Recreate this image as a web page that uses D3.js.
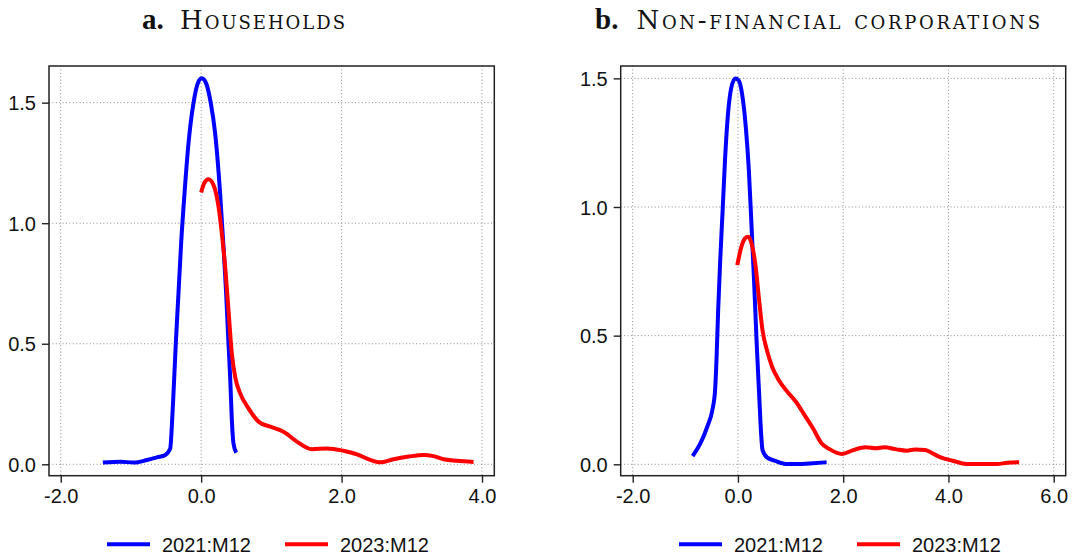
<!DOCTYPE html>
<html>
<head>
<meta charset="utf-8">
<script src="https://cdn.jsdelivr.net/npm/d3@7"></script>
<style>
  html, body { margin: 0; padding: 0; background: #fff; }
  svg { display: block; }
  .tick-label { font-family: "Liberation Sans", Arial, sans-serif; font-size: 20px; fill: #111; }
  .legend-label { font-family: "Liberation Sans", Arial, sans-serif; font-size: 20px; fill: #111; }
  .title-letter { font-family: "Liberation Serif", "Times New Roman", serif; font-size: 29px; font-weight: bold; fill: #111; }
  .title-name { font-family: "DejaVu Serif", serif; font-size: 26px; fill: #111; font-variant: small-caps; }
</style>
</head>
<body>
<svg id="chart" width="1075" height="556"></svg>
<script>
// Series names and colours
const seriesNames = ["2021:M12", "2023:M12"];
const seriesColors = ["#0000ff", "#ff0000"];

// Panel a: households — density estimates [x, density]
const householdsX2021 = [-1.40, -1.15, -0.96, -0.77, -0.63, -0.51, -0.44, -0.418, -0.394, -0.361, -0.323, -0.285, -0.237, -0.18, -0.11, -0.038, 0.01, 0.071, 0.138, 0.199, 0.27, 0.318, 0.356, 0.389, 0.413, 0.437, 0.46, 0.499];
const householdsY2021 = [0.007, 0.011, 0.007, 0.018, 0.029, 0.039, 0.066, 0.156, 0.294, 0.502, 0.709, 0.917, 1.124, 1.332, 1.497, 1.587, 1.601, 1.580, 1.497, 1.373, 1.124, 0.903, 0.709, 0.502, 0.363, 0.184, 0.087, 0.048];
const householdsX2023 = [0.0, 0.043, 0.104, 0.175, 0.247, 0.294, 0.342, 0.389, 0.437, 0.484, 0.556, 0.674, 0.817, 0.983, 1.173, 1.363, 1.577, 1.79, 2.027, 2.24, 2.407, 2.55, 2.74, 2.954, 3.167, 3.31, 3.452, 3.642, 3.88];
const householdsY2023 = [1.127, 1.166, 1.182, 1.159, 1.069, 0.958, 0.820, 0.640, 0.460, 0.363, 0.294, 0.232, 0.177, 0.156, 0.135, 0.094, 0.062, 0.066, 0.056, 0.039, 0.018, 0.008, 0.021, 0.032, 0.039, 0.034, 0.021, 0.015, 0.010];

// Panel b: non-financial corporations — density estimates [x, density]
const corporationsX2021 = [-0.861, -0.712, -0.583, -0.486, -0.434, -0.408, -0.376, -0.337, -0.291, -0.246, -0.194, -0.13, -0.052, 0.013, 0.078, 0.149, 0.207, 0.259, 0.311, 0.356, 0.402, 0.44, 0.466, 0.55, 0.712, 0.939, 1.23, 1.425, 1.684];
const corporationsY2021 = [0.032, 0.082, 0.146, 0.211, 0.289, 0.405, 0.599, 0.793, 0.987, 1.182, 1.350, 1.460, 1.499, 1.492, 1.440, 1.311, 1.143, 0.923, 0.690, 0.470, 0.276, 0.120, 0.056, 0.027, 0.013, 0.001, 0.001, 0.004, 0.008];
const corporationsX2023 = [-0.013, 0.065, 0.13, 0.194, 0.259, 0.337, 0.402, 0.466, 0.55, 0.648, 0.777, 0.939, 1.101, 1.263, 1.425, 1.587, 1.749, 1.975, 2.202, 2.429, 2.623, 2.785, 3.012, 3.206, 3.368, 3.562, 3.692, 3.854, 4.08, 4.339, 4.663, 4.922, 5.117, 5.343];
const corporationsY2023 = [0.774, 0.845, 0.877, 0.884, 0.858, 0.767, 0.638, 0.522, 0.444, 0.379, 0.327, 0.282, 0.243, 0.192, 0.140, 0.082, 0.058, 0.040, 0.056, 0.066, 0.062, 0.066, 0.058, 0.053, 0.058, 0.056, 0.043, 0.027, 0.014, 0.001, 0.001, 0.001, 0.006, 0.008];

// Axis ticks
const xTicksHouseholds = [-2, 0, 2, 4];
const xTicksCorporations = [-2, 0, 2, 4, 6];
const yTicks = [0, 0.5, 1.0, 1.5];

const zip = (xs, ys) => xs.map((x, i) => [x, ys[i]]);

const panels = [
  {
    letter: "a.", name: "Households",
    xDomain: [-2.167, 4.175], yDomain: [-0.0473, 1.652],
    xTicks: xTicksHouseholds,
    series: [zip(householdsX2021, householdsY2021), zip(householdsX2023, householdsY2023)],
    left: 49, right: 494.3, top: 66, bottom: 475.7,
    titleX: 142, nameX: 180, nameEnd: 345,
    legendX: 107
  },
  {
    letter: "b.", name: "Non-financial corporations",
    xDomain: [-2.228, 6.228], yDomain: [-0.0443, 1.548],
    xTicks: xTicksCorporations,
    series: [zip(corporationsX2021, corporationsY2021), zip(corporationsX2023, corporationsY2023)],
    left: 620.7, right: 1065.7, top: 66, bottom: 475.7,
    titleX: 595, nameX: 636.5, nameEnd: 1040,
    legendX: 679
  }
];

const svg = d3.select("#chart");
const fmt = d => d.toFixed(1);

panels.forEach(p => {
  const x = d3.scaleLinear().domain(p.xDomain).range([p.left, p.right]);
  const y = d3.scaleLinear().domain(p.yDomain).range([p.bottom, p.top]);
  const g = svg.append("g");

  // dotted grid
  const grid = g.append("g").attr("stroke", "#8c8c8c").attr("stroke-width", 1)
    .attr("stroke-dasharray", "1,2.4").attr("fill", "none");
  grid.selectAll("line.v").data(p.xTicks).join("line")
    .attr("x1", d => x(d)).attr("x2", d => x(d))
    .attr("y1", p.top).attr("y2", p.bottom);
  grid.selectAll("line.h").data(yTicks).join("line")
    .attr("x1", p.left).attr("x2", p.right)
    .attr("y1", d => y(d)).attr("y2", d => y(d));

  // axes
  const xAxis = d3.axisBottom(x).tickValues(p.xTicks).tickFormat(fmt).tickSize(7).tickPadding(6);
  const yAxis = d3.axisLeft(y).tickValues(yTicks).tickFormat(fmt).tickSize(7).tickPadding(6);
  const gx = g.append("g").attr("transform", `translate(0,${p.bottom})`).call(xAxis);
  const gy = g.append("g").attr("transform", `translate(${p.left},0)`).call(yAxis);
  [gx, gy].forEach(a => {
    a.select(".domain").remove();
    a.selectAll(".tick line").attr("stroke", "#222").attr("stroke-width", 1.4);
    a.selectAll(".tick text").attr("class", "tick-label").attr("fill", "#111");
  });
  gx.selectAll(".tick text").attr("dy", null).attr("y", 27);
  gy.selectAll(".tick text").attr("dy", "0.36em");

  // density curves
  const line = d3.line().x(d => x(d[0])).y(d => y(d[1])).curve(d3.curveMonotoneX);
  p.series.forEach((s, i) => {
    g.append("path").datum(s)
      .attr("fill", "none")
      .attr("stroke", seriesColors[i])
      .attr("stroke-width", 4)
      .attr("stroke-linejoin", "round")
      .attr("d", line);
  });

  // frame
  g.append("rect")
    .attr("x", p.left).attr("y", p.top)
    .attr("width", p.right - p.left).attr("height", p.bottom - p.top)
    .attr("fill", "none").attr("stroke", "#222").attr("stroke-width", 1.5);

  // title: bold panel letter followed by the panel name in small capitals
  svg.append("text").attr("class", "title-letter")
    .attr("x", p.titleX).attr("y", 29).text(p.letter);
  const nameText = svg.append("text").attr("class", "title-name")
    .attr("x", p.nameX).attr("y", 29).text(p.name);
  const natural = nameText.node().getComputedTextLength();
  const spacing = (p.nameEnd - p.nameX - natural) / (p.name.length - 1);
  nameText.style("letter-spacing", `${spacing}px`);

  // legend
  const lg = svg.append("g").attr("transform", `translate(${p.legendX},0)`);
  const offsets = [0, 178];
  seriesNames.forEach((name, i) => {
    lg.append("line")
      .attr("x1", offsets[i]).attr("x2", offsets[i] + 43)
      .attr("y1", 544.3).attr("y2", 544.3)
      .attr("stroke", seriesColors[i]).attr("stroke-width", 4);
    lg.append("text").attr("class", "legend-label")
      .attr("x", offsets[i] + 55).attr("y", 552.3)
      .text(name);
  });
});
</script>
</body>
</html>
